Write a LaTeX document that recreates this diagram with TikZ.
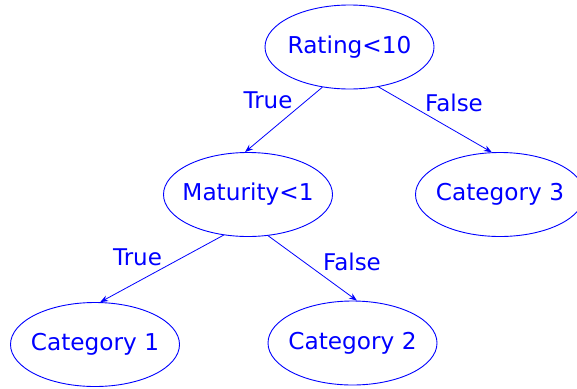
\documentclass[tikz,border=0pt]{standalone}
\usepackage{fontspec}
\setmainfont{DejaVu Sans}
\usetikzlibrary{shapes.geometric,arrows.meta}
\newcommand{\zw}[1]{\makebox[0pt]{#1}}
\begin{document}
\begin{tikzpicture}[x=1pt,y=-1pt,
  treenode/.style={ellipse,draw=blue,line width=0.9pt,text=blue,minimum width=169pt,minimum height=84pt,inner sep=0pt,font=\fontsize{23.2}{28}\selectfont},
  edge/.style={draw=blue,line width=0.8pt,-{Stealth[length=8pt,width=6pt]}},
  lbl/.style={text=blue,inner sep=0pt,font=\fontsize{23}{28}\selectfont}]
\useasboundingbox (0,0) rectangle (577,388);
\clip (0,0) rectangle (577,388);
\node[treenode] (rating) at (349.5,47) {\zw{Rating<10}};
\node[treenode] (mat) at (248,194.5) {\zw{Maturity<1}};
\node[treenode] (cat3) at (500,194.5) {\zw{Category 3}};
\node[treenode] (cat1) at (95,344.5) {\zw{Category 1}};
\node[treenode] (cat2) at (352.5,343) {\zw{Category 2}};
\draw[edge] (rating.236) -- (mat.94);
\draw[edge] (rating.306) -- (cat3.101);
\draw[edge] (mat.239) -- (cat1.83);
\draw[edge] (mat.296) -- (cat2.84);
\node[lbl] (t1) at (268,100) {True};
\node[lbl] (f1) at (454,102.5) {False};
\node[lbl] (t2) at (137.5,257) {True};
\node[lbl] (f2) at (352,262) {False};
\end{tikzpicture}
\end{document}
